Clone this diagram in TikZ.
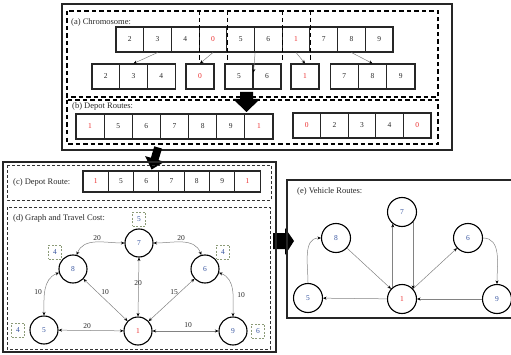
\documentclass[tikz,border=0pt]{standalone}
\usepackage{fontspec}
\setmainfont{Liberation Serif}
\usetikzlibrary{arrows.meta,calc}
\definecolor{rd}{RGB}{235,45,45}
\definecolor{dk}{RGB}{40,40,40}
\definecolor{bl}{RGB}{55,85,160}
\definecolor{dm}{RGB}{140,155,120}
\definecolor{eg}{RGB}{130,130,130}
\begin{document}
\begin{tikzpicture}[x=1pt,y=1pt,
  lab/.style={anchor=base west, inner sep=0pt, font=\fontsize{8.5}{9}\selectfont, text=dk},
  cell/.style={draw=black!85, line width=1.1pt, minimum width=27.7pt, minimum height=25pt, inner sep=0pt, font=\fontsize{7.5}{8}\selectfont},
  solidbox/.style={draw=black!85, line width=1.2pt},
  dbox/.style={draw=black, line width=1.2pt, dash pattern=on 4.5pt off 3pt},
  tdbox/.style={draw=black!80, line width=0.9pt, dash pattern=on 3pt off 2pt},
  tr/.style={draw=eg, line width=0.5pt, -{Stealth[length=3.5pt,width=3pt,color=black]}},
  bi/.style={draw=eg, line width=0.5pt, {Stealth[length=3.5pt,width=3pt,color=black]}-{Stealth[length=3.5pt,width=3pt,color=black]}},
  gnode/.style={circle, draw=black, line width=1.1pt, minimum size=28pt, inner sep=0pt, text=bl, font=\fontsize{7.5}{8}\selectfont},
  enode/.style={circle, draw=black, line width=1.1pt, minimum size=29pt, inner sep=0pt, text=bl, font=\fontsize{7.5}{8}\selectfont},
  dmd/.style={draw=dm, line width=0.8pt, dash pattern=on 2pt off 1.5pt, minimum width=13pt, minimum height=14pt, inner sep=0pt, text=bl, font=\fontsize{7.5}{8}\selectfont},
  el/.style={inner sep=0pt, font=\fontsize{7.5}{8}\selectfont, text=dk}
]
\useasboundingbox (0,0) rectangle (511,354);

% ---------------- top panel ----------------
\draw[solidbox] (62,350) rectangle (452,204);
\draw[dbox] (67,343) rectangle (438,257);
\draw[dbox] (67,254) rectangle (438,210);
\node[lab] (la) at (71,329) {(a) Chromosome:};
\node[lab] (lb) at (72,245) {(b) Depot Routes:};

\foreach \v/\col [count=\i] in {2/dk,3/dk,4/dk,0/rd,5/dk,6/dk,1/rd,7/dk,8/dk,9/dk}
  \node[cell, text=\col] (c\i) at ({116+27.7*(\i-0.5)},314.5) {\v};

\node[cell, text=dk] (b2) at (105.8,277.5) {2};
\node[cell, text=dk] (b3) at (133.5,277.5) {3};
\node[cell, text=dk] (b4) at (161.2,277.5) {4};
\node[cell, text=rd, minimum width=28pt] (b0) at (200,277.5) {0};
\node[cell, text=dk, minimum width=28pt] (b5) at (239,277.5) {5};
\node[cell, text=dk, minimum width=28pt] (b6) at (267,277.5) {6};
\node[cell, text=rd, minimum width=28pt] (b1) at (305,277.5) {1};
\node[cell, text=dk, minimum width=28.3pt] (b7) at (344.2,277.5) {7};
\node[cell, text=dk, minimum width=28.3pt] (b8) at (372.5,277.5) {8};
\node[cell, text=dk, minimum width=28.3pt] (b9) at (400.8,277.5) {9};

\foreach \k in {3,4,6,7}
  \draw[dbox] ($(c\k.north east)+(0,16)$) -- ($(c\k.south east)+(0,-10)$);

\draw[tr] (c2.south) -- (b3.north);
\draw[tr] (c4.south) -- (b0.north);
\draw[tr] (c5.south east) -- ($(b5.east)+(0,4)$);
\draw[tr] (c7.south) -- (b1.north);
\draw[tr] (c9.south) -- (b8.north);

\foreach \v/\col [count=\i] in {1/rd,5/dk,6/dk,7/dk,8/dk,9/dk,1/rd}
  \node[cell, text=\col, minimum width=28.14pt] (r\i) at ({76+28.14*(\i-0.5)},227.5) {\v};
\foreach \v/\col [count=\i] in {0/rd,2/dk,3/dk,4/dk,0/rd}
  \node[cell, text=\col, minimum width=27.6pt] (s\i) at ({293+27.6*(\i-0.5)},228.5) {\v};

% block arrows
\fill[black] (240,262) -- (253,262) -- (253,255) -- (260,255) -- (246.5,242) -- (233,255) -- (240,255) -- cycle;
\fill[black] (154.3,207.7) -- (162.0,205.4) -- (158.5,193.9) -- (164.3,192.2) -- (151.6,184.5) -- (145.1,197.9) -- (150.9,196.2) -- cycle;
\fill[black] (273,121) -- (285,121) -- (285,126) -- (294,113) -- (285,99) -- (285,105) -- (273,105) -- cycle;

% ---------------- left-bottom panel ----------------
\draw[solidbox] (3,192) rectangle (276,2);
\draw[tdbox] (7,189) rectangle (271,154);
\draw[tdbox] (7,147) rectangle (270,5);
\node[lab] (lc) at (13,170) {(c) Depot Route:};
\node[lab] (ld) at (13,134) {(d) Graph and Travel Cost:};

\foreach \v/\col [count=\i] in {1/rd,5/dk,6/dk,7/dk,8/dk,9/dk,1/rd}
  \node[cell, text=\col, minimum width=25.3pt, minimum height=21pt] (d\i) at ({83+25.3*(\i-0.5)},172.5) {\v};

\node[gnode] (n7) at (139,111) {7};
\node[gnode] (n8) at (73,85) {8};
\node[gnode] (n6) at (205,85) {6};
\node[gnode] (n5) at (44,24) {5};
\node[gnode, text=rd] (n1) at (138,23) {1};
\node[gnode] (n9) at (233,23) {9};

\node[dmd] (q7) at (139,135) {5};
\node[dmd] (q8) at (55,102) {4};
\node[dmd] (q6) at (223,102) {4};
\node[dmd] (q5) at (18,24) {4};
\node[dmd] (q9) at (258,23) {6};

\draw[bi] (n7.west) to[out=180,in=70] (n8.75);
\draw[bi] (n7.east) to[out=0,in=110] (n6.105);
\draw[bi] (n7.south) -- (n1.north);
\draw[bi] (n8) -- (n1);
\draw[bi] (n6) -- (n1);
\draw[bi] (n5) -- (n1);
\draw[bi] (n1) -- (n9);
\draw[bi] (n5.north) to[out=90,in=200] (n8.195);
\draw[bi] (n9.north) to[out=90,in=-20] (n6.-15);

\node[el] (w1) at (97,116) {20};
\node[el] (w2) at (181,116) {20};
\node[el] (w3) at (138,71) {20};
\node[el] (w4) at (38,62) {10};
\node[el] (w5) at (105,62) {10};
\node[el] (w6) at (174,62) {15};
\node[el] (w7) at (241,59) {10};
\node[el] (w8) at (87,28) {20};
\node[el] (w9) at (188,29) {10};

% ---------------- right panel ----------------
\draw[solidbox] (287,174) rectangle (520,36);
\node[lab] (le) at (297,161) {(e) Vehicle Routes:};

\node[enode] (e7) at (402,142) {7};
\node[enode] (e8) at (336,116) {8};
\node[enode] (e6) at (468,116) {6};
\node[enode] (e5) at (308,56) {5};
\node[enode, text=rd] (e1) at (402,55) {1};
\node[enode] (e9) at (497,55) {9};

\draw[tr] (e5.north) to[out=90,in=180] (e8.west);
\draw[tr] (e8) -- (e1);
\draw[tr] (e1.128) -- (e7.232);
\draw[tr] (e7.-42) -- (e1.42);
\draw[tr] (e1) -- (e6);
\draw[tr] (e6.east) to[out=0,in=90] (e9.north);
\draw[tr] (e9) -- (e1);
\draw[tr] (e1) -- (e5);
\end{tikzpicture}
\end{document}
